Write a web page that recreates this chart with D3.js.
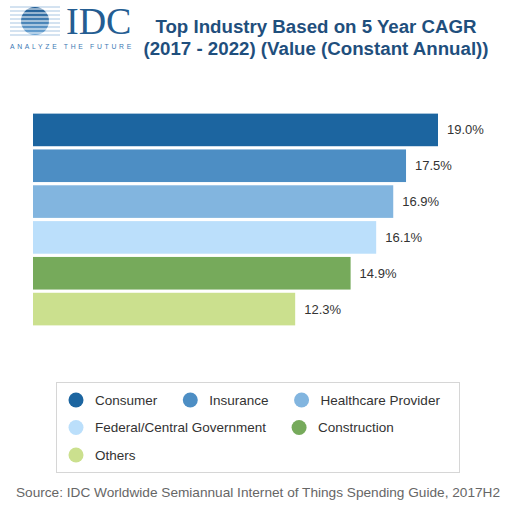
<!DOCTYPE html>
<html>
<head>
    <title>Top Industry Based on 5 Year CAGR</title>
</head>
<body style="margin:0">
<style type="text/css">
    body {
        background: #fff;
    }

    #renderer {
        width: 524px;
        height: 513px;
        background: #FFF;
        display: block;
    }

    text {
        font-family: "Liberation Sans", Arial, sans-serif;
    }
</style>
<script type="text/javascript" src="https://cdnjs.cloudflare.com/ajax/libs/d3/7.8.5/d3.min.js"></script>
<svg id='renderer'></svg>

<script type="text/javascript">
    // data
    var industries = ['Consumer', 'Insurance', 'Healthcare Provider', 'Federal/Central Government', 'Construction', 'Others'];
    var cagrValues = [19.0, 17.5, 16.9, 16.1, 14.9, 12.3];
    var industryColors = ['#1c65a0', '#4d8ec4', '#82b5df', '#bbdffb', '#76aa5b', '#cbe08e'];
    var titleLines = ['Top Industry Based on 5 Year CAGR', '(2017 - 2022) (Value (Constant Annual))'];
    var sourceText = 'Source: IDC Worldwide Semiannual Internet of Things Spending Guide, 2017H2';

    var root = d3.select('#renderer');

    var totalWidth = 524;
    var totalHeight = 513;

    // logo
    var logo = root.append('g');
    var grad = root.append('defs').append('linearGradient')
        .attr('id', 'logoGrad').attr('x1', 0).attr('y1', 0).attr('x2', 0).attr('y2', 1);
    grad.append('stop').attr('offset', '0%').attr('stop-color', '#1d5a92');
    grad.append('stop').attr('offset', '100%').attr('stop-color', '#6fa7d6');

    for (var s = 0; s < 8; s++) {
        logo.append('line')
            .attr('x1', 10).attr('x2', 60)
            .attr('y1', 7 + s * 4).attr('y2', 7 + s * 4)
            .attr('stroke', '#a9c6e2').attr('stroke-width', 1);
    }
    logo.append('circle')
        .attr('cx', 35).attr('cy', 21).attr('r', 14)
        .attr('fill', 'url(#logoGrad)');
    for (var s2 = 0; s2 < 8; s2++) {
        logo.append('line')
            .attr('x1', 18).attr('x2', 52)
            .attr('y1', 9 + s2 * 4).attr('y2', 9 + s2 * 4)
            .attr('stroke', '#fff').attr('stroke-width', 1.2);
    }
    logo.append('text')
        .text('IDC')
        .attr('x', 66)
        .attr('y', 34)
        .style('font-family', '"Liberation Serif", "DejaVu Serif", serif')
        .attr('font-size', 38)
        .attr('fill', '#245d92');
    logo.append('text')
        .text('ANALYZE THE FUTURE')
        .attr('x', 10)
        .attr('y', 49)
        .attr('font-size', 6.8)
        .attr('letter-spacing', 2.7)
        .attr('fill', '#3b78b3');

    // title
    root.selectAll('.title')
        .data(titleLines)
        .enter().append('text')
        .attr('class', 'title')
        .text(function (d) { return d; })
        .attr('x', 316)
        .attr('y', function (d, i) { return 33 + i * 22; })
        .attr('text-anchor', 'middle')
        .attr('font-size', 18.7)
        .attr('font-weight', 'bold')
        .attr('fill', '#1f4f7d');

    // scales
    var x = d3.scaleLinear()
        .domain([0, 19])
        .range([33, 438]);

    var y = d3.scaleBand()
        .domain(industries)
        .range([112, 327])
        .paddingInner(0.09)
        .paddingOuter(0.045);

    var rows = industries.map(function (d, i) {
        return {name: d, value: cagrValues[i], color: industryColors[i]};
    });

    root.selectAll('.bar')
        .data(rows)
        .enter().append('rect')
        .attr('class', 'bar')
        .attr('x', x(0))
        .attr('y', function (d) { return y(d.name); })
        .attr('width', function (d) { return x(d.value) - x(0); })
        .attr('height', y.bandwidth())
        .attr('fill', function (d) { return d.color; });

    root.selectAll('.value')
        .data(rows)
        .enter().append('text')
        .attr('class', 'value')
        .text(function (d) { return d.value.toFixed(1) + '%'; })
        .attr('x', function (d) { return x(d.value) + 9; })
        .attr('y', function (d) { return y(d.name) + y.bandwidth() / 2; })
        .attr('dy', '0.35em')
        .attr('font-size', 13)
        .attr('fill', '#333');

    // legend box
    var boxLeft = 56, boxTop = 382, boxRight = 459, boxBottom = 472;
    root.append('rect')
        .attr('x', boxLeft + 0.5)
        .attr('y', boxTop + 0.5)
        .attr('width', boxRight - boxLeft)
        .attr('height', boxBottom - boxTop)
        .attr('fill', '#fff')
        .attr('stroke', '#d6d6d6');

    // flowing legend items
    var legendX = 68, legendY = 400, rowStep = 27.5, itemGap = 25;
    var legend = root.append('g');
    var cursorX = legendX, cursorY = legendY;
    rows.forEach(function (d) {
        var item = legend.append('g');
        item.append('circle')
            .attr('cx', 8)
            .attr('cy', 0)
            .attr('r', 7.5)
            .attr('fill', d.color);
        var label = item.append('text')
            .text(d.name)
            .attr('x', 27)
            .attr('y', 0)
            .attr('dy', '0.35em')
            .attr('font-size', 13.5)
            .attr('fill', '#333');
        var itemWidth = 27 + label.node().getComputedTextLength();
        if (cursorX > legendX && cursorX + itemWidth > boxRight) {
            cursorX = legendX;
            cursorY += rowStep;
        }
        item.attr('transform', 'translate(' + cursorX + ',' + cursorY + ')');
        cursorX += itemWidth + itemGap;
    });

    // source
    root.append('text')
        .text(sourceText)
        .attr('x', 258)
        .attr('y', 497)
        .attr('text-anchor', 'middle')
        .attr('font-size', 13.65)
        .attr('fill', '#666');
</script>
</body>
</html>
